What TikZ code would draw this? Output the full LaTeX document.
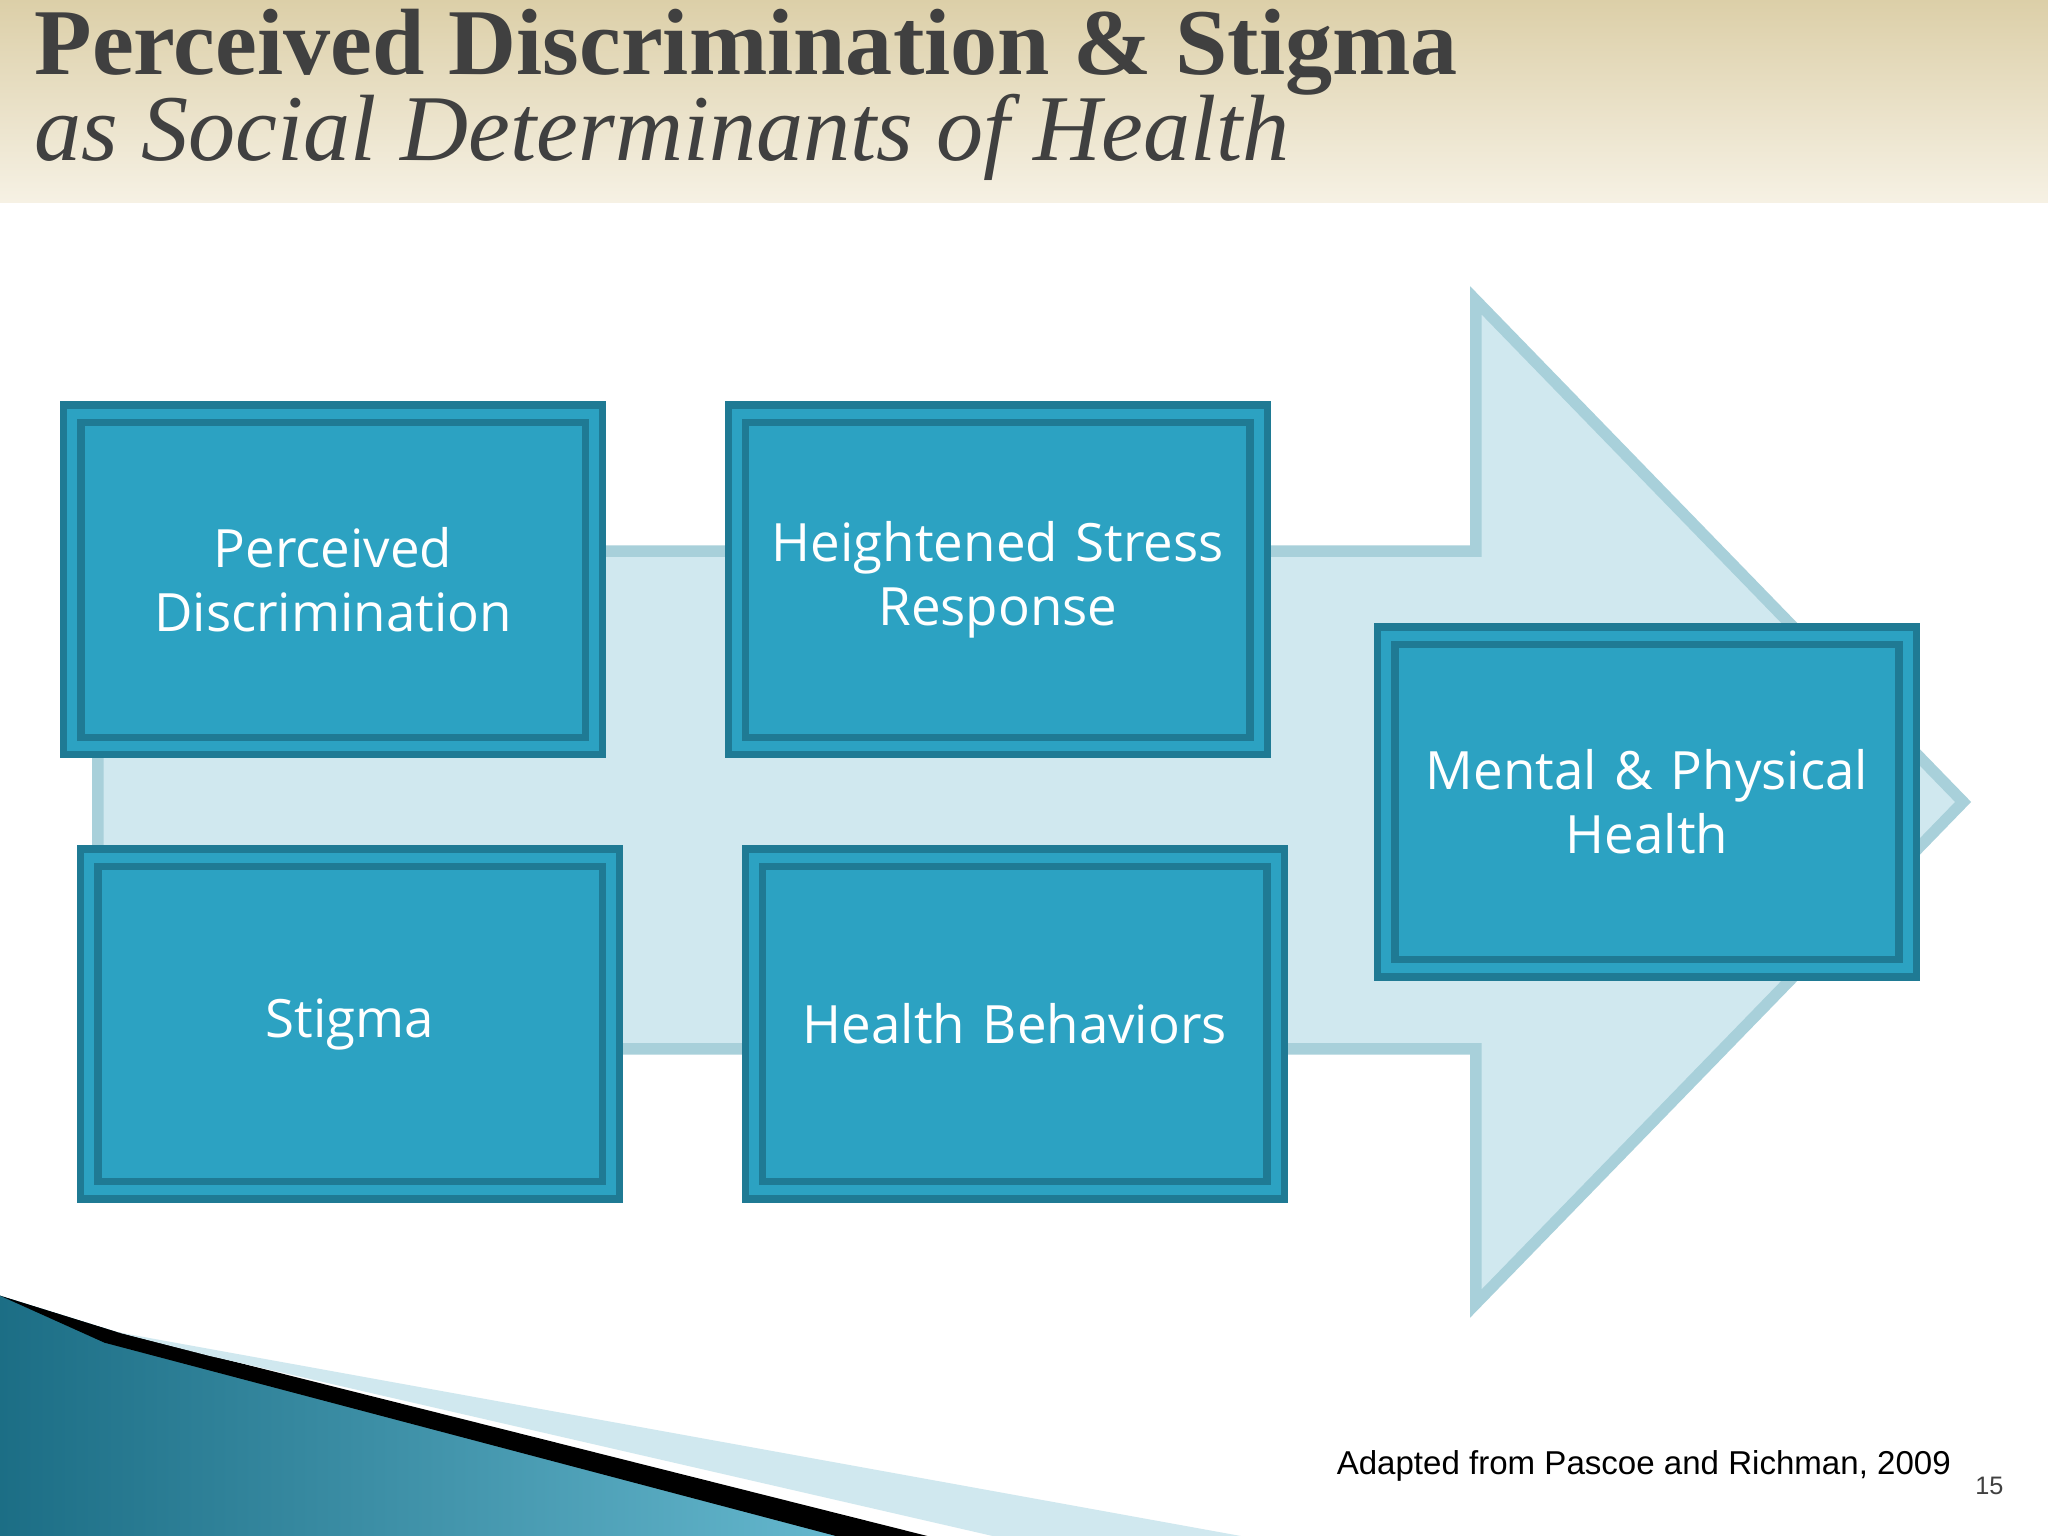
\documentclass[tikz,border=0pt]{standalone}
\usepackage{fontspec}
\setmainfont{Liberation Serif}
\newfontfamily\boxfont{Open Sans}
\newfontfamily\citefont{Liberation Sans}
\definecolor{boxfill}{HTML}{2CA2C2}
\definecolor{boxline}{HTML}{1F7A94}
\definecolor{arrfill}{HTML}{D0E8EF}
\definecolor{arrline}{HTML}{A8D0DA}
\definecolor{beigeA}{HTML}{DCCFA8}
\definecolor{beigeB}{HTML}{F6F1E4}
\definecolor{titlegray}{HTML}{404040}
\begin{document}
\begin{tikzpicture}[x=0.01cm,y=-0.01cm,
  fbox/.style={draw=boxline,line width=1.6pt,double=boxfill,double distance=2.2pt,fill=boxfill,
    minimum width=410*0.01cm-3pt,minimum height=265*0.01cm-3pt,inner sep=0pt,
    text=white,font=\boxfont\fontsize{11.5}{14}\selectfont,align=center,text width=380*0.01cm}]
\useasboundingbox (0,0) rectangle (1568,1176);
\fill[white] (0,0) rectangle (1568,1176);
% header
\shade[top color=beigeA,bottom color=beigeB] (0,0) rectangle (1568,155);
\node[anchor=west,text=titlegray,font=\bfseries\fontsize{20.5}{24}\selectfont] (t1) at (14,40) {Perceived Discrimination \& Stigma};
\node[anchor=west,text=titlegray,font=\itshape\fontsize{20.5}{24}\selectfont] (t2) at (14,105) {as Social Determinants of Health};
% big arrow
\draw[fill=arrfill,draw=arrline,line width=2.5pt]
 (75,422) -- (1130,422) -- (1130,230) -- (1503,614) -- (1130,998) -- (1130,803) -- (75,803) -- cycle;
% boxes
\node[fbox] (pd) at (255,444) {Perceived\\Discrimination\\[1.2em]};
\node[fbox] (hs) at (764,444) {Heightened Stress\\Response\\[1.2em]};
\node[fbox] (st) at (268,784) {Stigma};
\node[fbox] (hb) at (777,784) {Health Behaviors};
\node[fbox] (mp) at (1261,614) {Mental \& Physical\\Health\\[1.2em]};
% bottom decoration
\shade[left color=boxline!90!black,right color=boxfill!70] (0,992) -- (90,1020) -- (700,1176) -- (0,1176) -- cycle;
\fill[black] (0,992) -- (90,1020) -- (710,1176) -- (640,1176) -- (80,1028) -- cycle;
\fill[arrfill] (90,1020) -- (950,1176) -- (760,1176) -- (160,1038) -- cycle;
% citation
\node[anchor=east,font=\citefont\fontsize{7.2}{9}\selectfont] (cit) at (1506,1122) {Adapted from Pascoe and Richman, 2009};
\node[anchor=west,font=\citefont\fontsize{5.5}{7}\selectfont,text=titlegray] (pg) at (1500,1138) {15};
\end{tikzpicture}
\end{document}
